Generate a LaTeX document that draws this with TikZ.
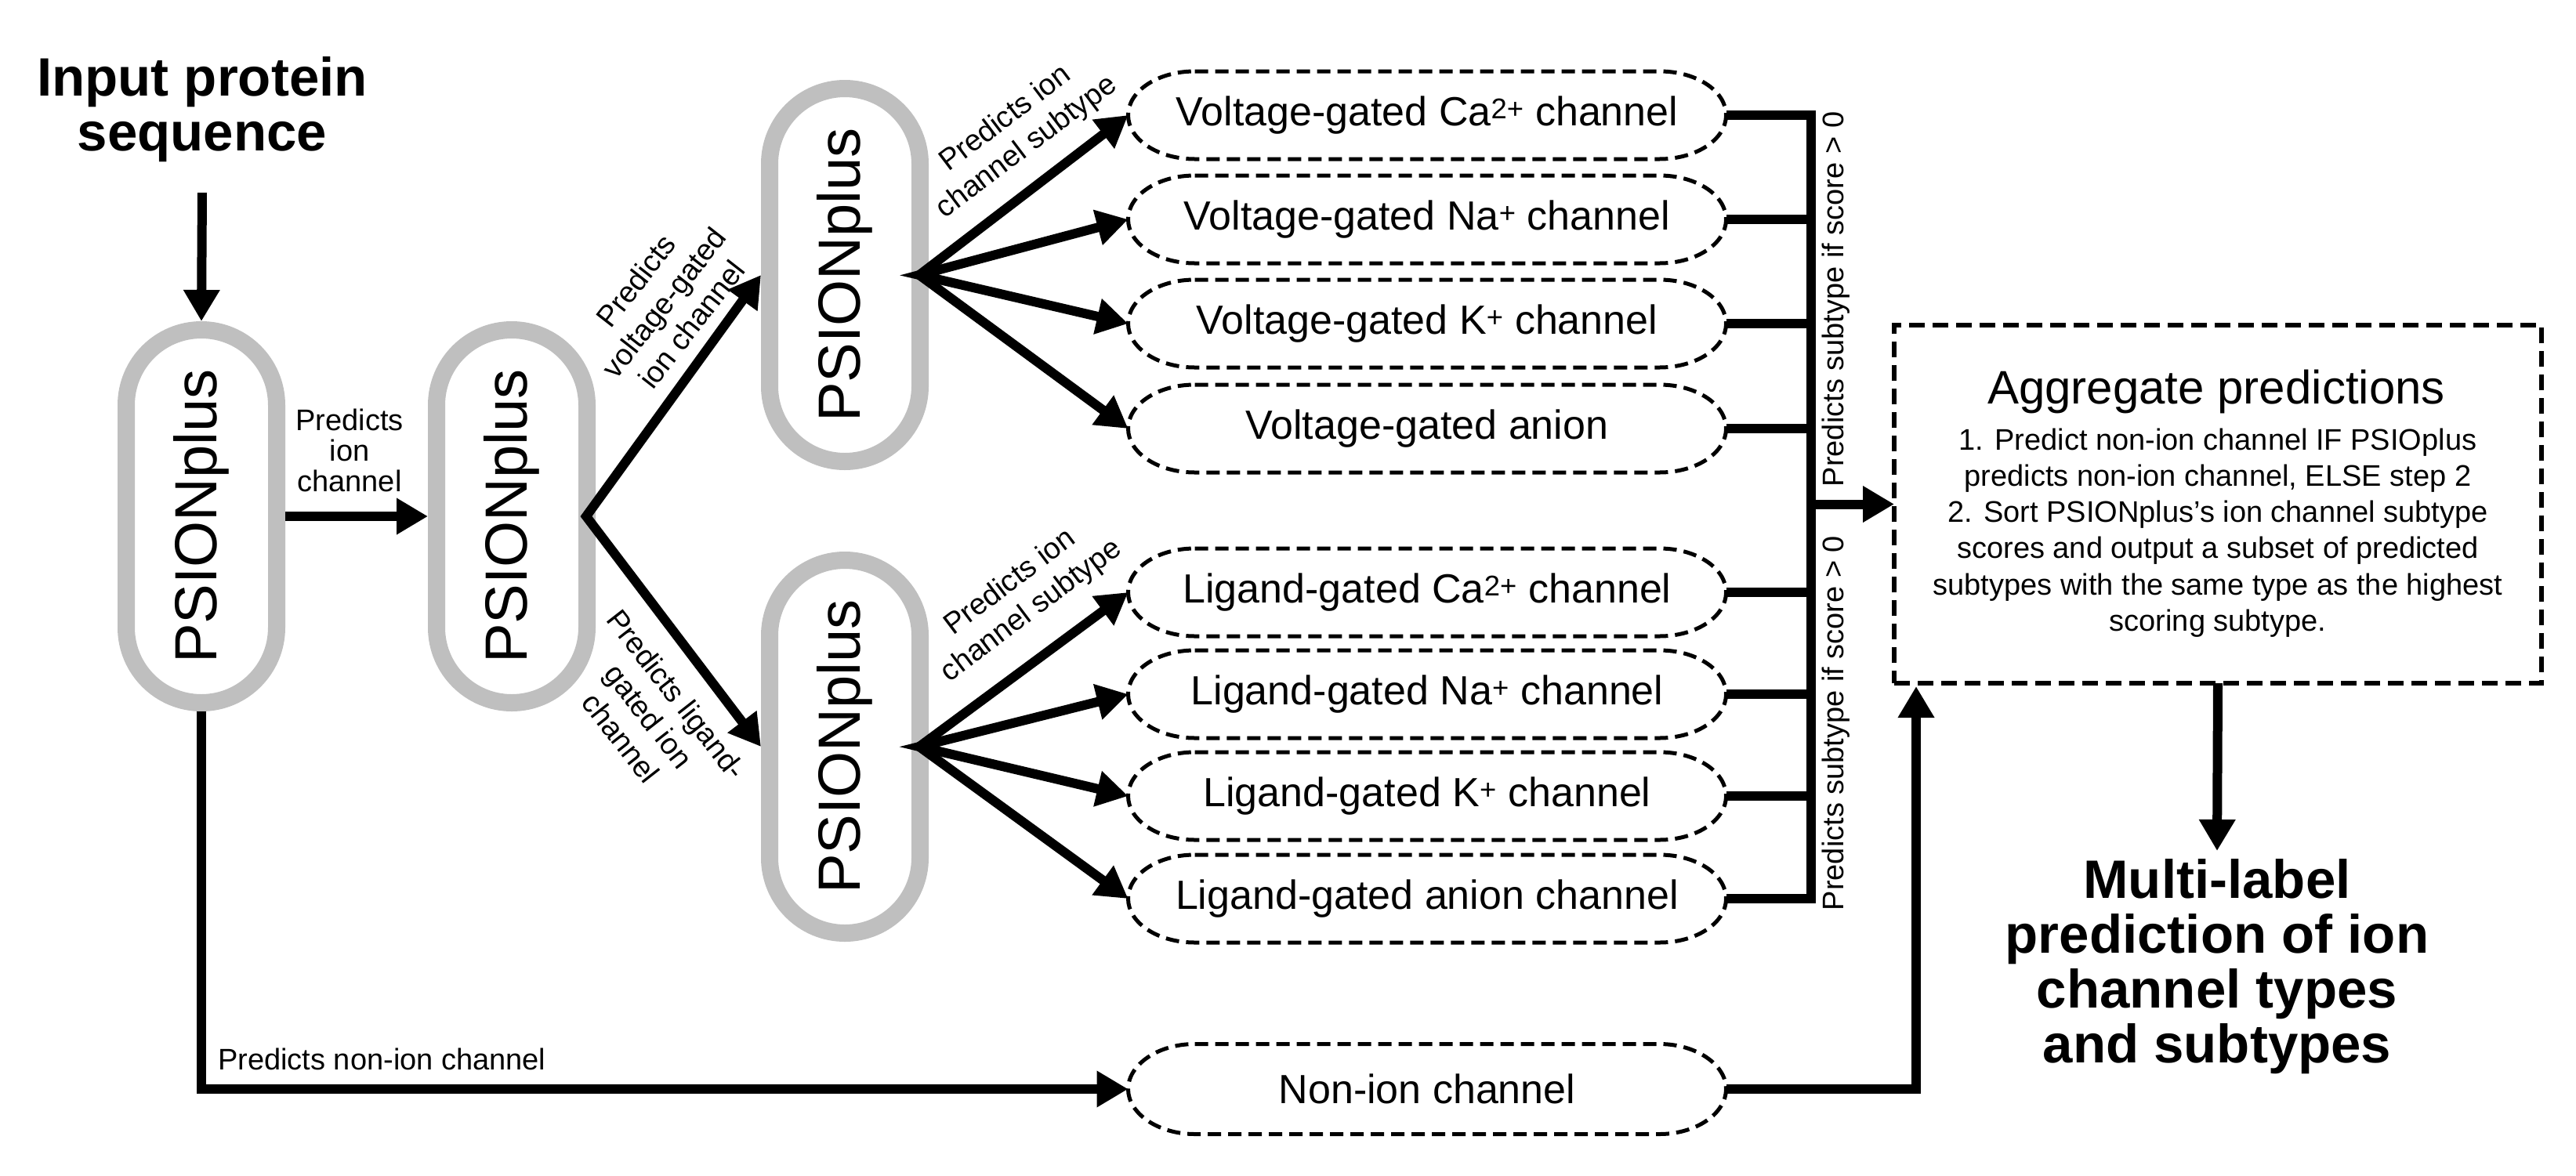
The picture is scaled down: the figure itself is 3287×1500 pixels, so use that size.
\documentclass[tikz,border=0pt]{standalone}
\usepackage{fontspec}
\setmainfont{Liberation Sans}
\usepackage{graphicx}
\usetikzlibrary{arrows.meta,calc}
\definecolor{psgray}{RGB}{191,191,191}
\newcommand\ovbox[1]{%
  \draw[dbox] ($(#1.north west)+(85,0)$) -- ($(#1.north east)+(-85,0)$)
    .. controls ($(#1.north east)+(-38,0)$) and ($(#1.east)+(0,-31)$) .. (#1.east)
    .. controls ($(#1.east)+(0,31)$) and ($(#1.south east)+(-38,0)$) .. ($(#1.south east)+(-85,0)$)
    -- ($(#1.south west)+(85,0)$)
    .. controls ($(#1.south west)+(38,0)$) and ($(#1.west)+(0,31)$) .. (#1.west)
    .. controls ($(#1.west)+(0,-31)$) and ($(#1.north west)+(38,0)$) .. ($(#1.north west)+(85,0)$) -- cycle;}
\begin{document}
\begin{tikzpicture}[x=1pt,y=-1pt,
  psion/.style={draw=psgray, line width=22pt, rounded corners=96pt,
    minimum width=192pt, minimum height=476pt, inner sep=0pt, outer sep=11pt,
    font=\fontsize{76}{80}\selectfont},
  chan/.style={minimum width=763pt, minimum height=112pt, inner sep=0pt, outer sep=0pt,
    font=\fontsize{52}{60}\selectfont},
  dbox/.style={line width=5pt, dash pattern=on 17pt off 9pt},
  lbl/.style={align=center, font=\fontsize{38}{45}\selectfont, inner sep=0pt},
  line/.style={line width=12pt},
  arr/.style={line width=12pt, -{Triangle[length=40pt,width=44pt]}},
  dbl/.style={line width=12pt, {Triangle[length=40pt,width=44pt]}-{Triangle[length=40pt,width=44pt]}},
  big/.style={align=center, inner sep=0pt, font=\bfseries\fontsize{69}{70}\selectfont}
]
\useasboundingbox (0,0) rectangle (3287,1500);

% input
\node[big] (input) at (258,139.5) {Input protein\\sequence};

% PSIONplus models
\node[psion] (P1) at (257,659) {\rotatebox{90}{PSIONplus}};
\node[psion] (P2) at (653,659) {\rotatebox{90}{PSIONplus}};
\node[psion] (P3) at (1078,351) {\rotatebox{90}{PSIONplus}};
\node[psion] (P4) at (1078,953) {\rotatebox{90}{PSIONplus}};

% channel boxes
\node[chan] (Vca) at (1821,147) {Voltage-gated Ca\textsuperscript{2+} channel};
\node[chan] (Vna) at (1821,280) {Voltage-gated Na\textsuperscript{+} channel};
\node[chan] (Vk)  at (1821,413) {Voltage-gated K\textsuperscript{+} channel};
\node[chan] (Van) at (1821,547) {Voltage-gated anion};
\node[chan] (Lca) at (1821,756) {Ligand-gated Ca\textsuperscript{2+} channel};
\node[chan] (Lna) at (1821,886) {Ligand-gated Na\textsuperscript{+} channel};
\node[chan] (Lk)  at (1821,1016) {Ligand-gated K\textsuperscript{+} channel};
\node[chan] (Lan) at (1821,1147) {Ligand-gated anion channel};
\node[chan, minimum height=115pt] (non) at (1821,1390) {Non-ion channel};
\foreach \n in {Vca,Vna,Vk,Van,Lca,Lna,Lk,Lan,non} {\ovbox{\n}}

% aggregate box
\node[draw, line width=6pt, dash pattern=on 20pt off 10pt, minimum width=826pt,
  minimum height=457pt, inner sep=0pt, outer sep=0pt] (agg) at (2830,643.5) {};
\node[font=\fontsize{60}{66}\selectfont] (aggT) at (2828,500) {Aggregate predictions};
\node[align=center, font=\fontsize{38}{46.2}\selectfont] (aggB) at (2830,680)
  {1. Predict non-ion channel IF PSIOplus\\predicts non-ion channel, ELSE step 2\\
   2. Sort PSIONplus’s ion channel subtype\\scores and output a subset of predicted\\
   subtypes with the same type as the highest\\scoring subtype.};

% output
\node[big, anchor=north] (multi) at (2829,1096)
  {Multi-label\\prediction of ion\\channel types\\and subtypes};

% connectors
\draw[arr] ([yshift=-39pt]input.south) -- (P1.north);
\draw[arr] (P1.east) -- (P2.west);
\node[lbl, font=\fontsize{38}{39}\selectfont] (l12) at (446,575) {Predicts\\ion\\channel};

\coordinate (v2) at ([xshift=-12pt]P2.east);
\draw[dbl] (P3.west) -- (v2) -- (P4.west);
\node[lbl, rotate=52] (lvg) at (847,386) {Predicts\\voltage-gated\\ion channel};
\node[lbl, rotate=-52] (llg) at (828,914) {Predicts ligand-\\gated ion\\channel};

\coordinate (v3) at ([xshift=-12pt]P3.east);
\draw[dbl] (Vca.west) -- (v3) -- (Van.west);
\draw[dbl] (Vna.west) -- (v3) -- (Vk.west);
\node[lbl, rotate=37] (lv3) at (1297,170) {Predicts ion\\channel subtype};

\coordinate (v4) at ([xshift=-12pt]P4.east);
\draw[dbl] (Lca.west) -- (v4) -- (Lan.west);
\draw[dbl] (Lna.west) -- (v4) -- (Lk.west);
\node[lbl, rotate=37] (lv4) at (1303,762) {Predicts ion\\channel subtype};

% bus
\coordinate (bus) at (2311,0);
\draw[line] (Vca.east) -| (bus |- Lan.east) -- (Lan.east);
\foreach \n in {Vna,Vk,Van,Lca,Lna,Lk} {\draw[line] (\n.east) -- (bus |- \n.east);}
\draw[arr] (bus |- agg.west) -- (agg.west);
\node[lbl, rotate=90] (lb1) at (2343,382) {Predicts subtype if score > 0};
\node[lbl, rotate=90] (lb2) at (2343,923) {Predicts subtype if score > 0};

% non-ion path
\draw[arr] (P1.south) |- (non.west);
\node[lbl, anchor=base west] (lnon) at (278,1365) {Predicts non-ion channel};
\draw[arr] (non.east) -| ($(agg.south west)+(28,4)$);

\draw[arr] (agg.south) -- ([yshift=10pt]multi.north);
\end{tikzpicture}
\end{document}
